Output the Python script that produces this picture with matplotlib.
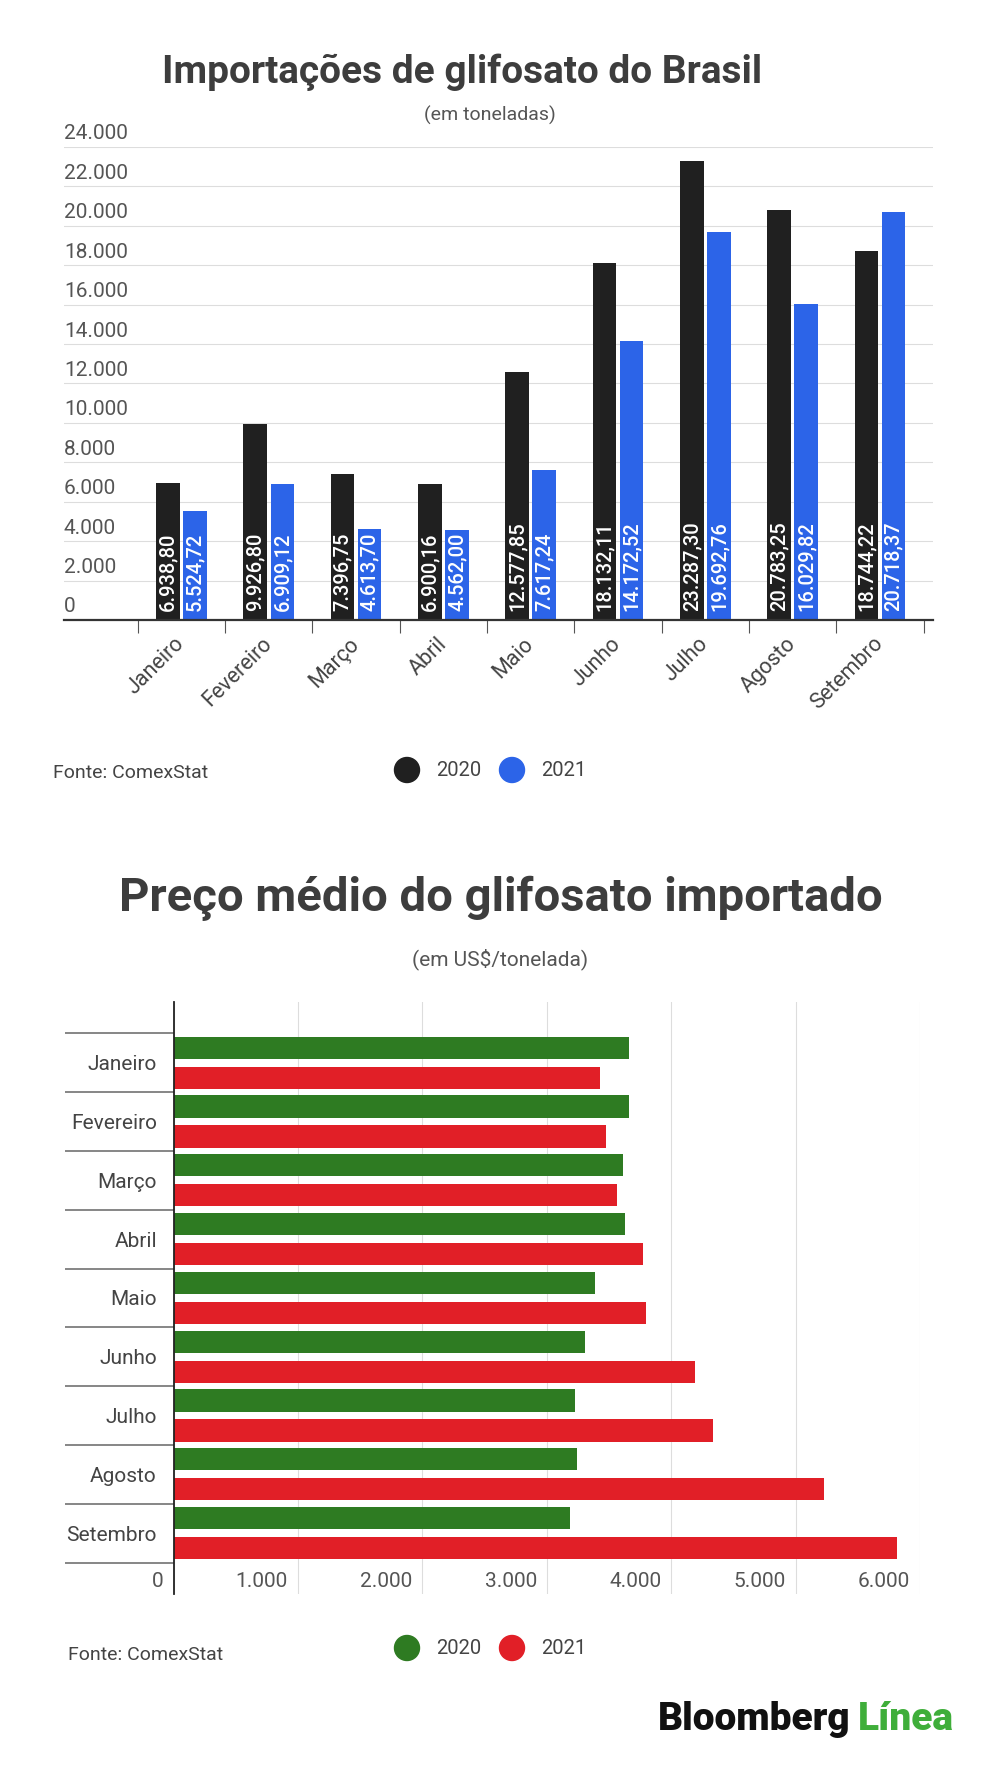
import matplotlib
matplotlib.use("Agg")
import matplotlib.pyplot as plt
from matplotlib.patches import Ellipse

plt.rcParams['font.family'] = ['Roboto', 'DejaVu Sans']

# data
months = ["Janeiro", "Fevereiro", "Março", "Abril", "Maio",
          "Junho", "Julho", "Agosto", "Setembro"]
imports_2020 = [6938.80, 9926.80, 7396.75, 6900.16, 12577.85,
                18132.11, 23287.30, 20783.25, 18744.22]
imports_2021 = [5524.72, 6909.12, 4613.70, 4562.00, 7617.24,
                14172.52, 19692.76, 16029.82, 20718.37]
imports_ticks = list(range(0, 24001, 2000))

price_2020 = [3660, 3660, 3615, 3630, 3385, 3305, 3225, 3240, 3190]
price_2021 = [3425, 3480, 3565, 3775, 3800, 4190, 4340, 5230, 5815]
price_ticks = list(range(0, 6001, 1000))

W, H = 1000, 1768
BLACK = "#202020"
BLUE = "#2c64e8"
GREEN = "#2e7b22"
RED = "#e11f27"
TEXT = "#444444"
GRID = "#dddddd"


def br_num(v, dec=0):
    s = f"{v:,.{dec}f}"
    return s.replace(",", "X").replace(".", ",").replace("X", ".")


def fx(px):
    return px / W


def fy(py):
    return 1 - py / H


def ax_rect(left, top, right, bottom):
    return [fx(left), fy(bottom), (right - left) / W, (bottom - top) / H]


def legend(y, c1, c2):
    for cx, col, lab, tx in [(407, c1, "2020", 436), (512, c2, "2021", 541)]:
        fig.patches.append(Ellipse((fx(cx), fy(y)), 25 / W, 25 / H, color=col,
                                   transform=fig.transFigure))
        fig.text(fx(tx), fy(y), lab, fontsize=14.5, color=TEXT, va="center", ha="left")


fig = plt.figure(figsize=(W / 100, H / 100), dpi=100)
fig.patch.set_facecolor("white")

# ---------------- top chart: imports ----------------
fig.text(fx(462), fy(72), "Importações de glifosato do Brasil", fontsize=28,
         fontweight="bold", color="#3d3d3d", ha="center", va="center")
fig.text(fx(490), fy(115), "(em toneladas)", fontsize=14, color="#555555",
         ha="center", va="center")

ax1 = fig.add_axes(ax_rect(64, 147, 933, 620))
cat_w = 87.3
x_left = (64 - 181.5) / cat_w
x_right = (933 - 181.5) / cat_w
ax1.set_xlim(x_left, x_right)
ax1.set_ylim(0, 24000)

xs = list(range(len(months)))
bw = 0.27
off = 0.155
ax1.bar([x - off for x in xs], imports_2020, width=bw, color=BLACK, zorder=3)
ax1.bar([x + off for x in xs], imports_2021, width=bw, color=BLUE, zorder=3)

for x, v in zip(xs, imports_2020):
    ax1.annotate(br_num(v, 2), (x - off, 0), xytext=(0, 9), textcoords="offset pixels",
                 rotation=90, ha="center", va="bottom", color="white",
                 fontsize=14.5, fontweight="medium", zorder=4)
for x, v in zip(xs, imports_2021):
    ax1.annotate(br_num(v, 2), (x + off, 0), xytext=(0, 9), textcoords="offset pixels",
                 rotation=90, ha="center", va="bottom", color="white",
                 fontsize=14.5, fontweight="medium", zorder=4)

ax1.set_yticks(imports_ticks)
ax1.set_yticklabels([])
ax1.tick_params(axis="y", length=0)
ax1.grid(axis="y", color=GRID, linewidth=0.8, zorder=0)
for v in imports_ticks:
    ax1.annotate(br_num(v), (x_left, v), xytext=(0, 13), textcoords="offset pixels",
                 ha="left", va="center", fontsize=15, color="#555555")

ax1.set_xticks([x - 0.5 for x in xs] + [xs[-1] + 0.5])
ax1.set_xticklabels([])
ax1.tick_params(axis="x", which="major", length=9.5, width=0.8, color="#555555",
                direction="out")
ax1.set_xticks(xs, minor=True)
ax1.set_xticklabels(months, minor=True)
ax1.tick_params(axis="x", which="minor", length=0, pad=15, labelsize=15.5,
                labelcolor=TEXT)
plt.setp(ax1.get_xticklabels(minor=True), rotation=45, ha="right", va="center",
         rotation_mode="anchor")

for s in ["top", "right", "left"]:
    ax1.spines[s].set_visible(False)
ax1.spines["bottom"].set_color("#333333")
ax1.spines["bottom"].set_linewidth(1.6)
ax1.spines["bottom"].set_zorder(5)

fig.text(fx(53), fy(773), "Fonte: ComexStat", fontsize=14, color=TEXT,
         ha="left", va="center")
legend(770, BLACK, BLUE)

# ---------------- bottom chart: price ----------------
fig.text(fx(501), fy(898), "Preço médio do glifosato importado", fontsize=34,
         fontweight="bold", color="#3d3d3d", ha="center", va="center")
fig.text(fx(500), fy(959), "(em US$/tonelada)", fontsize=15, color="#555555",
         ha="center", va="center")

ax2 = fig.add_axes(ax_rect(173.5, 1002, 920, 1594))
cat_h = 58.8
y_top = (1002 - 1062.7) / cat_h
y_bot = (1594 - 1062.7) / cat_h
ax2.set_xlim(0, 6000)
ax2.set_ylim(y_bot, y_top)

bh = 0.375
boff = 0.255
ax2.barh([y - boff for y in xs], price_2020, height=bh, color=GREEN, zorder=3)
ax2.barh([y + boff for y in xs], price_2021, height=bh, color=RED, zorder=3)

ax2.set_xticks(price_ticks)
ax2.set_xticklabels([])
ax2.tick_params(axis="x", length=0)
ax2.grid(axis="x", color=GRID, linewidth=0.8, zorder=0)
y_lab = (1581.7 - 1062.7) / cat_h
for v in price_ticks:
    ax2.annotate(br_num(v), (v, y_lab), xytext=(-10, 0), textcoords="offset pixels",
                 ha="right", va="center", fontsize=15, color="#555555")

ax2.set_yticks([y - 0.5 for y in xs] + [xs[-1] + 0.5])
ax2.set_yticklabels([])
ax2.tick_params(axis="y", which="major", length=78.5, width=1.1, color="#666666",
                direction="out")
ax2.set_yticks(xs, minor=True)
ax2.set_yticklabels(months, minor=True)
ax2.tick_params(axis="y", which="minor", length=0, pad=12, labelsize=15,
                labelcolor=TEXT)

for s in ["top", "right", "bottom"]:
    ax2.spines[s].set_visible(False)
ax2.spines["left"].set_color("#222222")
ax2.spines["left"].set_linewidth(1.3)
ax2.spines["left"].set_zorder(5)

fig.text(fx(68), fy(1655), "Fonte: ComexStat", fontsize=14, color=TEXT,
         ha="left", va="center")
legend(1648, GREEN, RED)

# logo
fig.text(fx(658), fy(1720), "Bloomberg", fontsize=28, fontweight="heavy",
         color="#111111", ha="left", va="center")
fig.text(fx(954), fy(1720), "Línea", fontsize=28, fontweight="heavy",
         color="#3fae3a", ha="right", va="center")

fig.savefig("out.png", dpi=100, facecolor="white")
